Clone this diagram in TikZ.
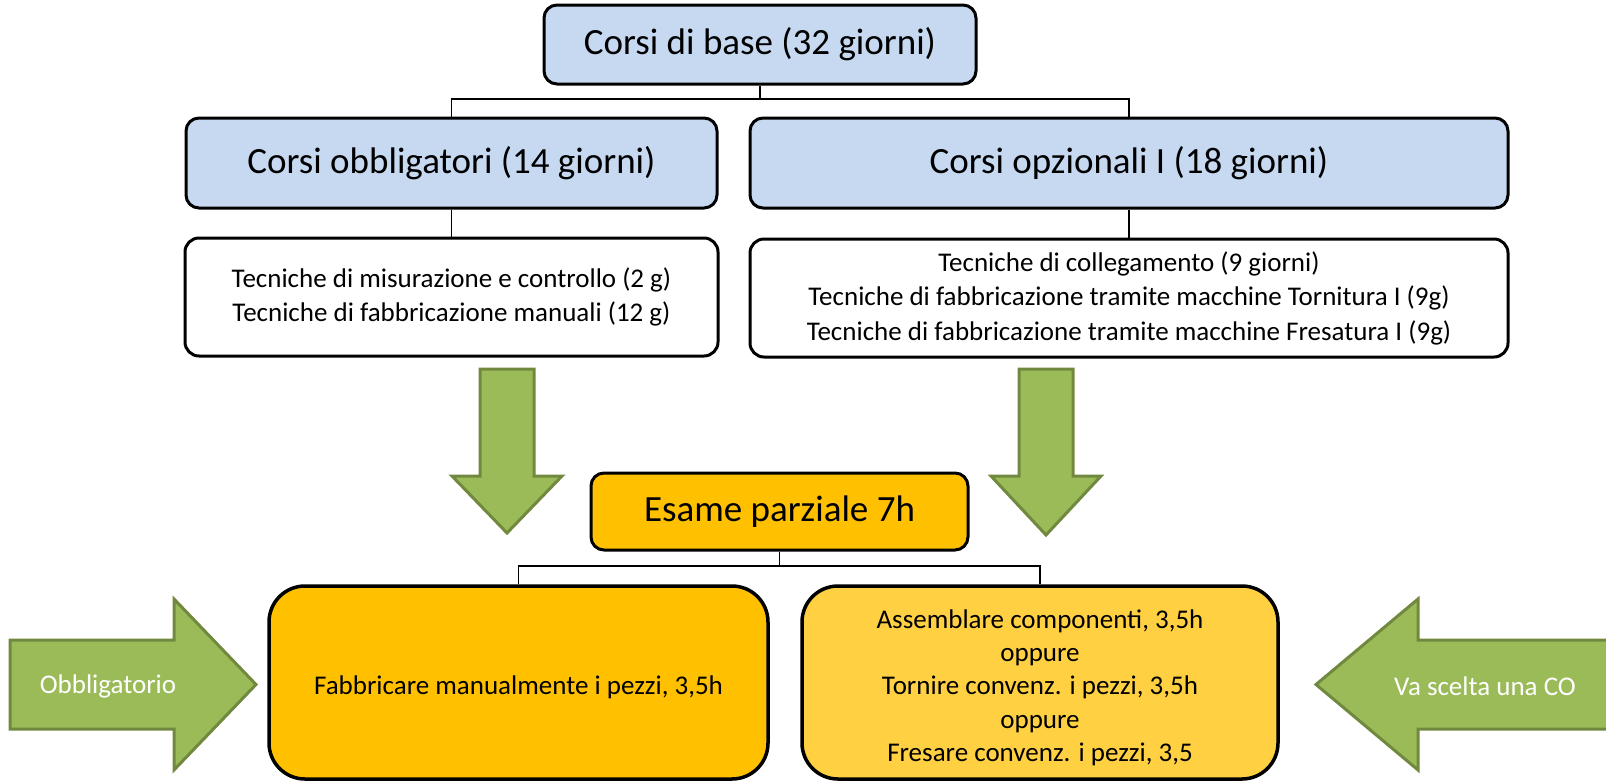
\documentclass[tikz,border=0pt]{standalone}
\usepackage{fontspec}
\setmainfont{Carlito}
\definecolor{boxblue}{HTML}{C6D9F1}
\definecolor{gold}{HTML}{FFC000}
\definecolor{lightgold}{HTML}{FFD042}
\definecolor{arrgreen}{HTML}{9BBB59}
\definecolor{arrborder}{HTML}{71893F}
\tikzset{
  basebox/.style={draw=black, line width=3pt, align=center, inner sep=0pt},
  bluebox/.style={basebox, fill=boxblue, rounded corners=13pt, font=\fontsize{37}{44}\selectfont},
  whitebox/.style={basebox, fill=white, rounded corners=14pt, font=\fontsize{27}{34.5}\selectfont},
  goldbox/.style={basebox, fill=gold, rounded corners=13pt, font=\fontsize{37}{44}\selectfont},
  lowbox/.style={basebox, line width=3.5pt, rounded corners=36pt},
  lowtext/.style={align=center, font=\fontsize{27}{33.3}\selectfont},
  conn/.style={draw=black, line width=1.8pt},
  bigarrow/.style={fill=arrgreen, draw=arrborder, line width=3pt, line join=miter},
  arrtext/.style={text=white, font=\fontsize{27}{33}\selectfont}
}
\begin{document}
\begin{tikzpicture}[x=1pt,y=-1pt]
\useasboundingbox (0,0) rectangle (1606,782);
\clip (0,0) rectangle (1606,782);
% block arrows
\draw[bigarrow] (480,369) -- (534,369) -- (534,476) -- (562,476) -- (507,533) -- (452,476) -- (480,476) -- cycle;
\draw[bigarrow] (1019,369) -- (1073,369) -- (1073,476) -- (1101,476) -- (1046,535) -- (991,476) -- (1019,476) -- cycle;
\draw[bigarrow] (10,640) -- (174,640) -- (174,599) -- (256,684.5) -- (174,770) -- (174,729) -- (10,729) -- cycle;
\draw[bigarrow] (1316,684.5) -- (1418,599) -- (1418,640) -- (1640,640) -- (1640,729) -- (1418,729) -- (1418,770) -- cycle;
\node[arrtext] (obbl) at (108,686) {Obbligatorio};
\node[arrtext] (vasc) at (1485,686) {Va scelta una CO};
% boxes
\node[bluebox, minimum width=432pt, minimum height=79pt] (top) at (760,44.5) {Corsi di base (32 giorni)};
\node[bluebox, minimum width=531pt, minimum height=90pt] (obl) at (451.5,163) {Corsi obbligatori (14 giorni)};
\node[bluebox, minimum width=758pt, minimum height=90pt] (opz) at (1129,163) {Corsi opzionali I (18 giorni)};
\node[whitebox, minimum width=533pt, minimum height=118pt] (oblt) at (451.5,297) {Tecniche di misurazione e controllo (2 g)\\Tecniche di fabbricazione manuali (12 g)};
\node[whitebox, minimum width=758pt, minimum height=118pt] (opzt) at (1129,298) {Tecniche di collegamento (9 giorni)\\Tecniche di fabbricazione tramite macchine Tornitura I (9g)\\Tecniche di fabbricazione tramite macchine Fresatura I (9g)};
\node[goldbox, minimum width=377pt, minimum height=77pt] (esame) at (779.5,511.5) {\raisebox{-3pt}{Esame parziale 7h}};
\node[lowbox, fill=gold, minimum width=499pt, minimum height=193pt] (lowl) at (518.5,682.5) {};
\node[lowbox, fill=lightgold, minimum width=476pt, minimum height=193pt] (lowr) at (1040,682.5) {};
\node[lowtext] (lowltext) at ([yshift=-5pt]lowl.center) {Fabbricare manualmente i pezzi, 3,5h};
\node[lowtext] (lowrtext) at ([yshift=-5pt]lowr.center) {Assemblare componenti, 3,5h\\oppure\\Tornire convenz. i pezzi, 3,5h\\oppure\\Fresare convenz. i pezzi, 3,5};
% connectors
\coordinate (j1) at (760,99);
\coordinate (j2) at (779.5,566);
\draw[conn] (top.south) -- (j1);
\draw[conn] (obl.north) |- (j1) -| (opz.north);
\draw[conn] (obl.south) -- (oblt.north);
\draw[conn] (opz.south) -- (opzt.north);
\draw[conn] (esame.south) -- (j2);
\draw[conn] (lowl.north) |- (j2) -| (lowr.north);
\end{tikzpicture}
\end{document}
